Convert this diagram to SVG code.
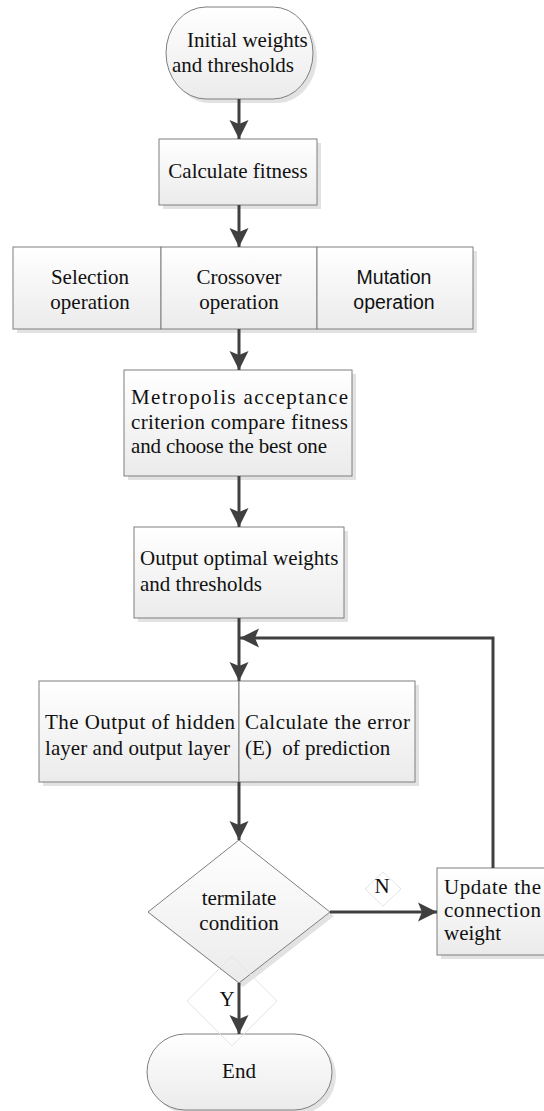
<svg xmlns="http://www.w3.org/2000/svg" width="544" height="1111" viewBox="0 0 544 1111">
<style>
.node{fill:url(#g);stroke:#7f7f7f;stroke-width:1}
.sh{fill:#e2e2e2}
.t{font-family:"Liberation Serif","Times New Roman",serif;font-size:21px;fill:#111}
.s{font-family:"Liberation Sans",Arial,sans-serif;font-size:19.5px;fill:#111}
.c{text-anchor:middle}
.conn{fill:none;stroke:#404040;stroke-width:3}
.faint{fill:none;stroke:#e4e4e4;stroke-width:1}
</style>
<defs>
<linearGradient id="g" x1="0" y1="0" x2="0" y2="1">
<stop offset="0" stop-color="#ffffff"/>
<stop offset="1" stop-color="#ebebeb"/>
</linearGradient>
<marker id="ah" markerUnits="userSpaceOnUse" markerWidth="20" markerHeight="20" viewBox="0 0 20 20" refX="19" refY="10" orient="auto">
<path d="M0,0.5 L19,10 L0,19.5 L4,10 z" fill="#404040"/>
</marker>
</defs>
<rect width="544" height="1111" fill="#ffffff"/>

<g id="start">
<rect class="sh" x="170" y="11" width="147" height="92" rx="40" ry="46"/>
<rect class="node" x="166" y="7" width="147" height="92" rx="40" ry="46"/>
<text class="t" x="187" y="47">Initial weights</text>
<text class="t" x="172" y="72">and thresholds</text>
</g>

<g id="fitness">
<rect class="sh" x="163" y="143" width="158" height="66"/>
<rect class="node" x="159" y="139" width="158" height="66"/>
<text class="t c" x="238" y="178">Calculate fitness</text>
</g>

<g id="operations">
<rect class="sh" x="17" y="251" width="460" height="82"/>
<g id="selection">
<rect class="node" x="13" y="247" width="148" height="82"/>
<text class="t c" x="90" y="284">Selection</text>
<text class="t c" x="90" y="309">operation</text>
</g>
<g id="crossover">
<rect class="node" x="161" y="247" width="156" height="82"/>
<text class="t c" x="239" y="284">Crossover</text>
<text class="t c" x="239" y="309">operation</text>
</g>
<g id="mutation">
<rect class="node" x="317" y="247" width="156" height="82"/>
<text class="s c" x="394" y="284">Mutation</text>
<text class="s c" x="394" y="309">operation</text>
</g>
</g>

<g id="metropolis">
<rect class="sh" x="128" y="374" width="228" height="106"/>
<rect class="node" x="124" y="370" width="228" height="106"/>
<text class="t" x="131" y="404" textLength="217" lengthAdjust="spacing">Metropolis acceptance</text>
<text class="t" x="131" y="429" textLength="217" lengthAdjust="spacing">criterion compare fitness</text>
<text class="t" x="131" y="453" textLength="196" lengthAdjust="spacing">and choose the best one</text>
</g>

<g id="output">
<rect class="sh" x="138" y="531" width="210" height="91"/>
<rect class="node" x="134" y="527" width="210" height="91"/>
<text class="t" x="140" y="565">Output optimal weights</text>
<text class="t" x="140" y="591">and thresholds</text>
</g>

<g id="compute">
<rect class="sh" x="43" y="685" width="376" height="101"/>
<g id="hidden">
<rect class="node" x="39" y="681" width="200" height="101"/>
<text class="t" x="45" y="729" textLength="190" lengthAdjust="spacing">The Output of hidden</text>
<text class="t" x="45" y="755" textLength="185" lengthAdjust="spacing">layer and output layer</text>
</g>
<g id="error">
<rect class="node" x="239" y="681" width="176" height="101"/>
<text class="t" x="245" y="729" textLength="165" lengthAdjust="spacing">Calculate the error</text>
<text class="t" x="245" y="755" xml:space="preserve">(E)  of prediction</text>
</g>
</g>

<g id="decision">
<polygon class="sh" points="243,844 334,916 243,987 152,916"/>
<polygon class="node" points="239,840 330,912 239,983 148,912"/>
<text class="t c" x="239" y="905">termilate</text>
<text class="t c" x="239" y="930">condition</text>
</g>

<g id="update">
<rect class="sh" x="441" y="872" width="120" height="87"/>
<rect class="node" x="437" y="868" width="120" height="87"/>
<text class="t" x="444" y="894" textLength="97" lengthAdjust="spacing">Update the</text>
<text class="t" x="444" y="917" textLength="97" lengthAdjust="spacing">connection</text>
<text class="t" x="444" y="940">weight</text>
</g>

<g id="end">
<rect class="sh" x="151" y="1038" width="185" height="76" rx="38"/>
<rect class="node" x="147" y="1034" width="185" height="76" rx="38"/>
<text class="t c" x="239" y="1078">End</text>
</g>

<g id="connectors">
<line class="conn" x1="239" y1="99" x2="239" y2="139" marker-end="url(#ah)"/>
<line class="conn" x1="239" y1="205" x2="239" y2="247" marker-end="url(#ah)"/>
<line class="conn" x1="239" y1="329" x2="239" y2="370" marker-end="url(#ah)"/>
<line class="conn" x1="239" y1="476" x2="239" y2="527" marker-end="url(#ah)"/>
<line class="conn" x1="239" y1="618" x2="239" y2="681" marker-end="url(#ah)"/>
<polyline class="conn" points="493,868 493,638 240,638" marker-end="url(#ah)"/>
<line class="conn" x1="239" y1="782" x2="239" y2="840" marker-end="url(#ah)"/>
<line class="conn" x1="330" y1="912" x2="437" y2="912" marker-end="url(#ah)"/>
<line class="conn" x1="239" y1="983" x2="239" y2="1034" marker-end="url(#ah)"/>
<polygon class="faint" points="383,872 401,889 383,906 365,889"/>
<text class="t c" x="382" y="893">N</text>
<polygon class="faint" points="232,956 277,1001 232,1046 187,1001"/>
<text class="t c" x="227" y="1006">Y</text>
</g>
</svg>
